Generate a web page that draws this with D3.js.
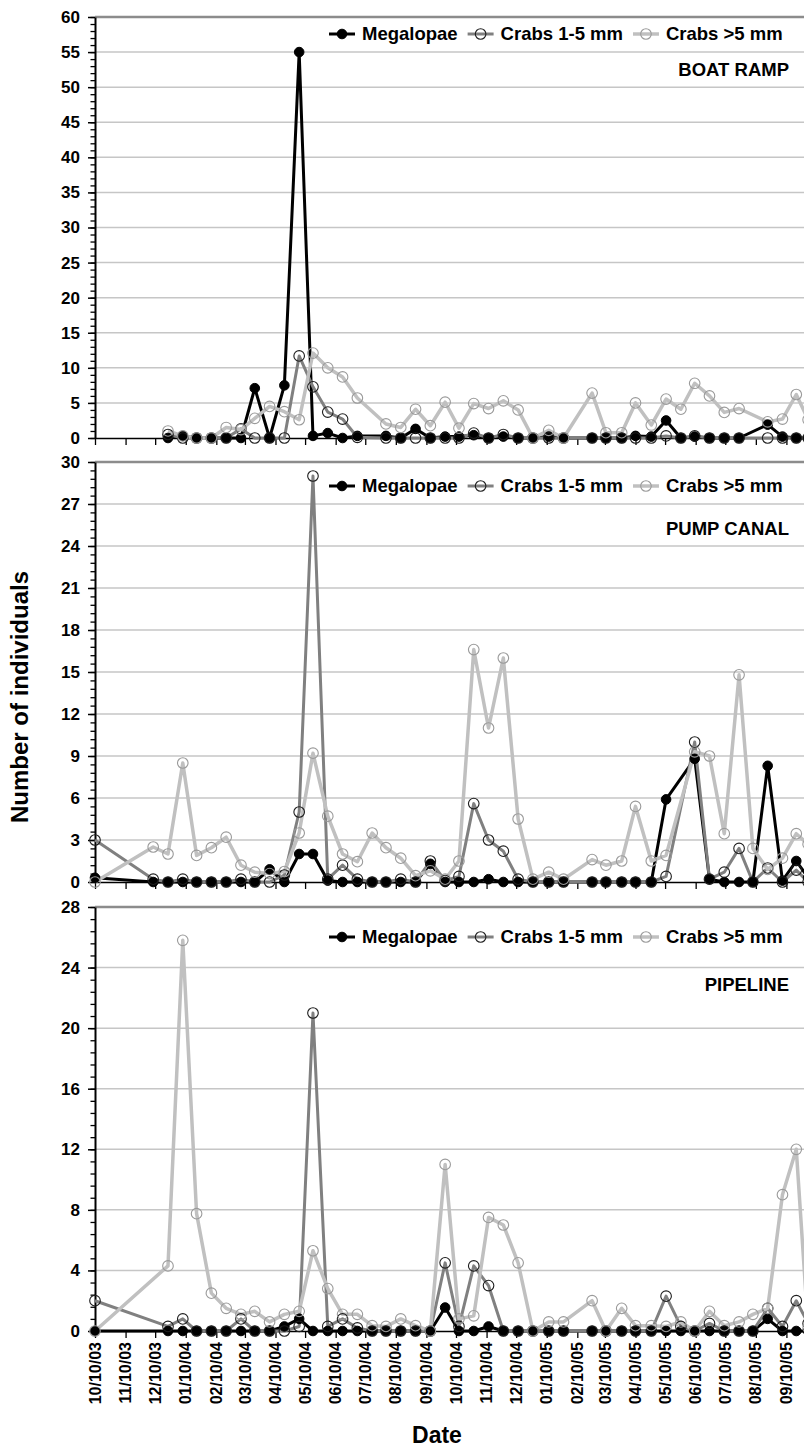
<!DOCTYPE html>
<html>
<head>
<meta charset="utf-8">
<script src="https://cdn.jsdelivr.net/npm/d3@7/dist/d3.min.js"></script>
<style>
  body { margin: 0; background: #fff; }
  svg { display: block; font-family: "Liberation Sans", Arial, sans-serif; font-weight: bold; }
</style>
</head>
<body>
<svg id="chart" width="804" height="1451"></svg>
<script>
// sampling dates (shared by the three sites, null = not sampled)
const sampleDates = [
  "2003-10-10", "2003-12-08", "2003-12-23", "2004-01-07", "2004-01-21", "2004-02-05",
  "2004-02-20", "2004-03-06", "2004-03-20", "2004-04-04", "2004-04-19", "2004-05-04",
  "2004-05-18", "2004-06-02", "2004-06-17", "2004-07-02", "2004-07-17", "2004-07-31",
  "2004-08-15", "2004-08-30", "2004-09-14", "2004-09-29", "2004-10-13", "2004-10-28",
  "2004-11-12", "2004-11-27", "2004-12-12", "2004-12-27", "2005-01-12", "2005-01-27",
  "2005-02-25", "2005-03-11", "2005-03-27", "2005-04-10", "2005-04-26", "2005-05-11",
  "2005-05-26", "2005-06-09", "2005-06-24", "2005-07-09", "2005-07-24", "2005-08-07",
  "2005-08-22", "2005-09-06", "2005-09-20", "2005-10-02"
];

const tickLabels = [
  "10/10/03", "11/10/03", "12/10/03", "01/10/04", "02/10/04", "03/10/04", "04/10/04",
  "05/10/04", "06/10/04", "07/10/04", "08/10/04", "09/10/04", "10/10/04", "11/10/04",
  "12/10/04", "01/10/05", "02/10/05", "03/10/05", "04/10/05", "05/10/05", "06/10/05",
  "07/10/05", "08/10/05", "09/10/05"
];
const axisEnd = "10/10/05"; // axis runs on past the right edge of the picture

const seriesNames = ["Megalopae", "Crabs 1-5 mm", "Crabs >5 mm"];

// BOAT RAMP
const boatMegalopae = [null, null, 0, 0.3, 0, 0, 0, 0, 7.1, 0, 7.5, 55, 0.3, 0.7, 0, 0.3, null, 0.3,
  0, 1.3, 0, 0.2, 0.2, 0.4, 0, 0.2, 0, 0, 0.2, 0, 0, 0, 0, 0.3, 0.2, 2.5, 0, 0.2, 0, 0, 0, null, 1.9, 0.2, 0, 0];
const boatCrabsSmall = [null, null, 0.5, 0, 0, 0, 0, 1.3, 0, 0, 0, 11.7, 7.3, 3.7, 2.7, 0.1, null, 0,
  0, 0, 0, 0, 0, 0.7, 0, 0.5, 0, 0, 0, 0, 0, 0, 0, 0, 0, 0.3, 0, 0.3, 0, 0, 0, null, 0, 0, 0, 0];
const boatCrabsLarge = [null, null, 1.0, 0.3, 0, 0, 1.5, 1.2, 2.8, 4.5, 3.75, 2.6, 12.1, 10.0, 8.7, 5.7, null, 2.0,
  1.5, 4.1, 1.75, 5.1, 1.4, 4.9, 4.2, 5.3, 4.0, 0, 1.1, 0, 6.4, 0.75, 0.75, 5.0, 1.85, 5.55, 4.1, 7.8, 6.0, 3.65, 4.2, null, 2.3, 2.7, 6.2, 2.6];

// PUMP CANAL
const pumpMegalopae = [0.3, 0, 0, 0, 0, 0, 0, 0, 0, 0.9, 0, 2.0, 2.0, 0.1, 0, 0, 0, 0,
  0, 0, 1.3, 0, 0, 0, 0.2, 0, 0, 0, 0, 0, 0, 0, 0, 0, 0, 5.9, null, 8.8, 0.2, 0, 0, 0, 8.3, 0.1, 1.5, 0.3];
const pumpCrabsSmall = [3.0, 0.2, 0, 0.2, 0, 0, 0, 0.2, 0, 0, 0.5, 5.0, 29.0, 0.2, 1.2, 0.2, 0, 0,
  0.2, 0, 1.5, 0.1, 0.4, 5.6, 3.0, 2.2, 0.2, 0, 0, 0, 0, 0, 0, 0, 0, 0.4, null, 10.0, 0.2, 0.7, 2.4, 0, 1.0, 0, 0.85, 0];
const pumpCrabsLarge = [0, 2.5, 2.0, 8.5, 1.9, 2.45, 3.2, 1.2, 0.7, 0.6, 0.75, 3.5, 9.2, 4.7, 2.0, 1.45, 3.5, 2.45,
  1.7, 0.45, 0.8, 0.2, 1.5, 16.6, 11.0, 16.0, 4.5, 0.2, 0.7, 0.2, 1.6, 1.2, 1.5, 5.4, 1.5, 1.9, null, 9.3, 9.0, 3.45, 14.8, 2.4, 0.9, 1.7, 3.45, 2.7];

// PIPELINE
const pipeMegalopae = [0, null, 0, 0, 0, 0, 0, 0, 0, 0, 0.3, 0.8, 0, 0, 0, 0, 0, 0,
  0, 0, 0, 1.55, 0, 0, 0.3, 0, 0, 0, 0, 0, 0, 0, 0, 0, 0, 0, 0, 0, 0, 0, 0, 0, 0.8, 0, 0, 0];
const pipeCrabsSmall = [2.0, null, 0.3, 0.8, 0, 0, 0, 0.8, 0, 0, 0, 0.3, 21.0, 0.3, 0.8, 0.2, 0, 0,
  0, 0, 0, 4.5, 0.3, 4.3, 3.0, 0, 0, 0, 0, 0, 0, 0, 0, 0, 0, 2.3, 0.3, 0, 0.5, 0, 0, 0, 1.5, 0.3, 2.0, 0.5];
const pipeCrabsLarge = [0, null, 4.3, 25.8, 7.75, 2.5, 1.5, 1.1, 1.3, 0.6, 1.1, 1.3, 5.3, 2.8, 1.1, 1.1, 0.35, 0.3,
  0.8, 0.35, 0, 11.0, 0.8, 1.0, 7.5, 7.0, 4.5, 0, 0.6, 0.6, 2.0, 0, 1.5, 0.35, 0.35, 0.3, 0.6, 0, 1.3, 0.35, 0.6, 1.1, 1.5, 9.0, 12.0, 0.2];

const panels = [
  {title: "BOAT RAMP", series: [boatMegalopae, boatCrabsSmall, boatCrabsLarge], yMax: 60, yStep: 5,
   top: 17, bottom: 438, legendY: 34, titleY: 70},
  {title: "PUMP CANAL", series: [pumpMegalopae, pumpCrabsSmall, pumpCrabsLarge], yMax: 30, yStep: 3,
   top: 462, bottom: 882, legendY: 486, titleY: 529},
  {title: "PIPELINE", series: [pipeMegalopae, pipeCrabsSmall, pipeCrabsLarge], yMax: 28, yStep: 4,
   top: 907, bottom: 1331, legendY: 937, titleY: 985}
];

const styles = [
  {line: "#000", width: 3, r: 4.8, fill: "#000", stroke: "#000", sw: 1},
  {line: "#808080", width: 3, r: 5.3, fill: "none", stroke: "#1e1e1e", sw: 1.1},
  {line: "#c0c0c0", width: 3.5, r: 5.3, fill: "none", stroke: "#9a9a9a", sw: 1.1}
];

const parseIso = d3.timeParse("%Y-%m-%d");
const parseTick = d3.timeParse("%m/%d/%y");
const dates = sampleDates.map(parseIso);
const ticks = tickLabels.map(parseTick);
const tickMarks = ticks.concat([parseTick(axisEnd)]);

const left = 95, right = 816;
const x = d3.scaleTime().domain([ticks[0], parseTick(axisEnd)]).range([left, right]);

const svg = d3.select("#chart");

panels.forEach((p, pi) => {
  const y = d3.scaleLinear().domain([0, p.yMax]).range([p.bottom, p.top]);
  const g = svg.append("g");

  // gridlines
  g.append("g").selectAll("line")
    .data(d3.range(p.yStep, p.yMax, p.yStep))
    .join("line")
    .attr("x1", left).attr("x2", 804)
    .attr("y1", d => y(d)).attr("y2", d => y(d))
    .attr("stroke", "#c6c6c6").attr("stroke-width", 1.5);

  // plot-area top border
  g.append("line")
    .attr("x1", left).attr("x2", 804)
    .attr("y1", y(p.yMax)).attr("y2", y(p.yMax))
    .attr("stroke", "#8c8c8c").attr("stroke-width", 2.5);

  // minor y ticks
  g.append("g")
    .attr("transform", `translate(${left},0)`)
    .call(d3.axisLeft(y).tickValues(d3.range(0, p.yMax + 0.001, p.yStep / 5)).tickSize(4.5).tickFormat(""))
    .call(a => a.select(".domain").remove())
    .call(a => a.selectAll("line").attr("stroke", "#000").attr("stroke-width", 1.3));

  // major y ticks and labels
  g.append("g")
    .attr("transform", `translate(${left},0)`)
    .call(d3.axisLeft(y).tickValues(d3.range(0, p.yMax + 0.001, p.yStep)).tickSize(7).tickPadding(8).tickSizeOuter(0))
    .call(a => a.select(".domain").attr("stroke", "#000").attr("stroke-width", 2))
    .call(a => a.selectAll("line").attr("stroke", "#000").attr("stroke-width", 1.5))
    .call(a => a.selectAll("text").attr("font-size", 17).attr("font-weight", "bold")
      .attr("font-family", "Liberation Sans, Arial, sans-serif").attr("fill", "#000"));

  // x axis
  g.append("g")
    .attr("transform", `translate(0,${p.bottom})`)
    .call(d3.axisBottom(x).tickValues(tickMarks).tickSize(7).tickSizeOuter(0).tickFormat(""))
    .call(a => a.select(".domain").attr("stroke", "#000").attr("stroke-width", 1.5))
    .call(a => a.selectAll("line").attr("stroke", "#000").attr("stroke-width", 1.3));

  if (pi === panels.length - 1) {
    g.append("g").selectAll("text")
      .data(ticks)
      .join("text")
      .attr("transform", (d) => `translate(${x(d)},${p.bottom + 11}) rotate(-90)`)
      .attr("text-anchor", "end")
      .attr("dy", "0.35em")
      .attr("font-size", 16)
      .text((d, i) => tickLabels[i]);
  }

  // series lines first, markers on top
  const line = d3.line().x(d => x(d.date)).y(d => y(d.v));
  const data = p.series.map(vals => vals.map((v, i) => ({date: dates[i], v})).filter(d => d.v !== null));

  data.forEach((pts, si) => {
    g.append("path")
      .datum(pts)
      .attr("d", line)
      .attr("fill", "none")
      .attr("stroke", styles[si].line)
      .attr("stroke-width", styles[si].width)
      .attr("stroke-linejoin", "round");
  });
  data.forEach((pts, si) => {
    g.append("g").selectAll("circle")
      .data(pts)
      .join("circle")
      .attr("cx", d => x(d.date))
      .attr("cy", d => y(d.v))
      .attr("r", styles[si].r)
      .attr("fill", styles[si].fill)
      .attr("stroke", styles[si].stroke)
      .attr("stroke-width", styles[si].sw);
  });

  // legend
  const lg = g.append("g").attr("font-size", 18.5);
  let lx = 329;
  seriesNames.forEach((name, si) => {
    const st = styles[si];
    lg.append("line")
      .attr("x1", lx).attr("x2", lx + 26)
      .attr("y1", p.legendY).attr("y2", p.legendY)
      .attr("stroke", st.line).attr("stroke-width", st.width);
    lg.append("circle")
      .attr("cx", lx + 13).attr("cy", p.legendY).attr("r", st.r)
      .attr("fill", st.fill).attr("stroke", st.stroke).attr("stroke-width", st.sw);
    const t = lg.append("text")
      .attr("x", lx + 33).attr("y", p.legendY).attr("dy", "0.35em")
      .text(name);
    lx += 33 + t.node().getComputedTextLength() + 10;
  });

  // site name
  g.append("text")
    .attr("x", 789).attr("y", p.titleY).attr("dy", "0.35em")
    .attr("text-anchor", "end").attr("font-size", 18.5)
    .text(p.title);
});

// axis titles
svg.append("text")
  .attr("transform", "translate(20,697) rotate(-90)")
  .attr("text-anchor", "middle").attr("dy", "0.35em")
  .attr("font-size", 24)
  .text("Number of individuals");

svg.append("text")
  .attr("x", 437).attr("y", 1435).attr("dy", "0.35em")
  .attr("text-anchor", "middle").attr("font-size", 23)
  .text("Date");
</script>
</body>
</html>
